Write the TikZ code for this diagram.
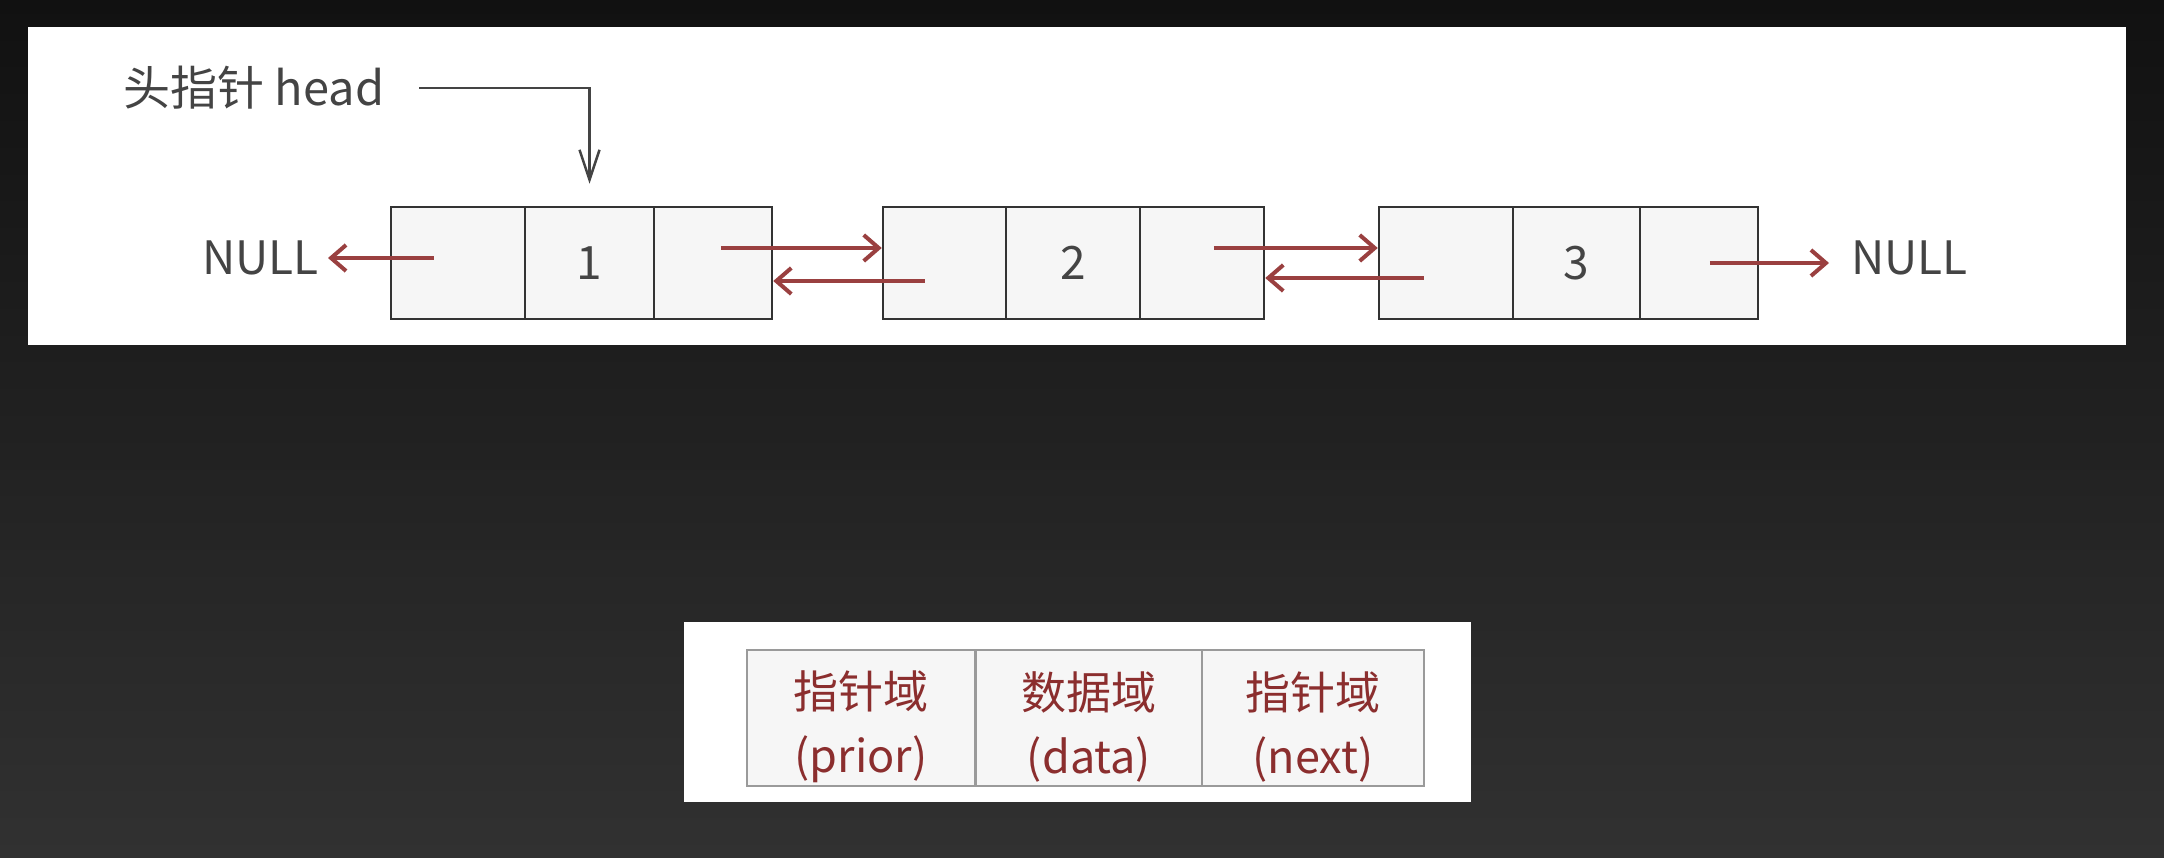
\documentclass[tikz,border=0pt]{standalone}
\usepackage{fontspec}
\setmainfont{Noto Sans CJK SC}
\usetikzlibrary{arrows.meta}
\definecolor{bgtop}{HTML}{111111}
\definecolor{bgbot}{HTML}{313131}
\definecolor{ptrred}{HTML}{9A4040}
\definecolor{tabred}{HTML}{8B2E2E}
\definecolor{boxline}{HTML}{333333}
\definecolor{cellfill}{HTML}{F6F6F6}
\definecolor{txtgray}{HTML}{444444}
\definecolor{tabline}{HTML}{9A9A9A}
\tikzset{
  cell/.style={draw=boxline, fill=cellfill, line width=2.5pt, minimum height=112pt, inner sep=0pt,
    font=\fontsize{46}{54}\selectfont, text=txtgray},
  nulltxt/.style={inner sep=0pt, font=\fontsize{46}{54}\selectfont, text=txtgray},
  ptr/.style={draw=ptrred, line width=4pt, -{Straight Barb[length=15pt,width=26pt]}},
  headptr/.style={draw=txtgray, line width=2.5pt, -{Straight Barb[length=30pt,width=20pt]}},
  tcell/.style={draw=tabline, fill=cellfill, line width=2pt, minimum height=136pt, inner sep=0pt,
    align=center, text=tabred, font=\fontsize{45}{64}\selectfont},
  panel/.style={fill=white}
}
\newcommand{\tabstrut}{\rule{0pt}{56pt}}
\begin{document}
\begin{tikzpicture}[x=1pt,y=-1pt]
\shade[top color=bgtop,bottom color=bgbot] (0,0) rectangle (2164,858);
\useasboundingbox (0,0) rectangle (2164,858);
\fill[panel] (28,27) rectangle (2126,345);
\fill[panel] (684,622) rectangle (1471,802);

% node 1
\node[cell,minimum width=134pt] (n1p) at (458,263) {};
\node[cell,minimum width=129pt] (n1d) at (589.5,263) {1};
\node[cell,minimum width=118pt] (n1n) at (713,263) {};
% node 2
\node[cell,minimum width=123pt] (n2p) at (944.5,263) {};
\node[cell,minimum width=134pt] (n2d) at (1073,263) {2};
\node[cell,minimum width=124pt] (n2n) at (1202,263) {};
% node 3
\node[cell,minimum width=134pt] (n3p) at (1446,263) {};
\node[cell,minimum width=127pt] (n3d) at (1576.5,263) {3};
\node[cell,minimum width=118pt] (n3n) at (1699,263) {};

\node[nulltxt,anchor=east] (nullL) at (319,258) {NULL};
\node[nulltxt,anchor=west] (nullR) at (1851,258) {NULL};

\node[nulltxt,anchor=west,font=\fontsize{47}{54}\selectfont] (head) at (123,88) {头指针 head};

\draw[headptr] ([xshift=35pt]head.east) -| ([yshift=22pt]n1d.north);

\draw[ptr] ([xshift=44pt,yshift=5pt]n1p.west) -- ([xshift=9pt]nullL.east);
\draw[ptr] ([xshift=68pt,yshift=15pt]n1n.west) -- ([yshift=15pt]n2p.west);
\draw[ptr] ([xshift=43pt,yshift=-18pt]n2p.west) -- ([yshift=-18pt]n1n.east);
\draw[ptr] ([xshift=75pt,yshift=15pt]n2n.west) -- ([yshift=15pt]n3p.west);
\draw[ptr] ([xshift=46pt,yshift=-15pt]n3p.west) -- ([yshift=-15pt]n2n.east);
\draw[ptr] ([xshift=71pt]n3n.west) -- ([xshift=-22pt,yshift=-5pt]nullR.west);

% legend table
\node[tcell,minimum width=228.5pt] (tp) at (861,718) {\tabstrut 指针域\\(prior)};
\node[tcell,minimum width=227pt] (td) at (1089,718) {\tabstrut 数据域\\(data)};
\node[tcell,minimum width=221.5pt] (tn) at (1313,718) {\tabstrut 指针域\\(next)};
\end{tikzpicture}
\end{document}
